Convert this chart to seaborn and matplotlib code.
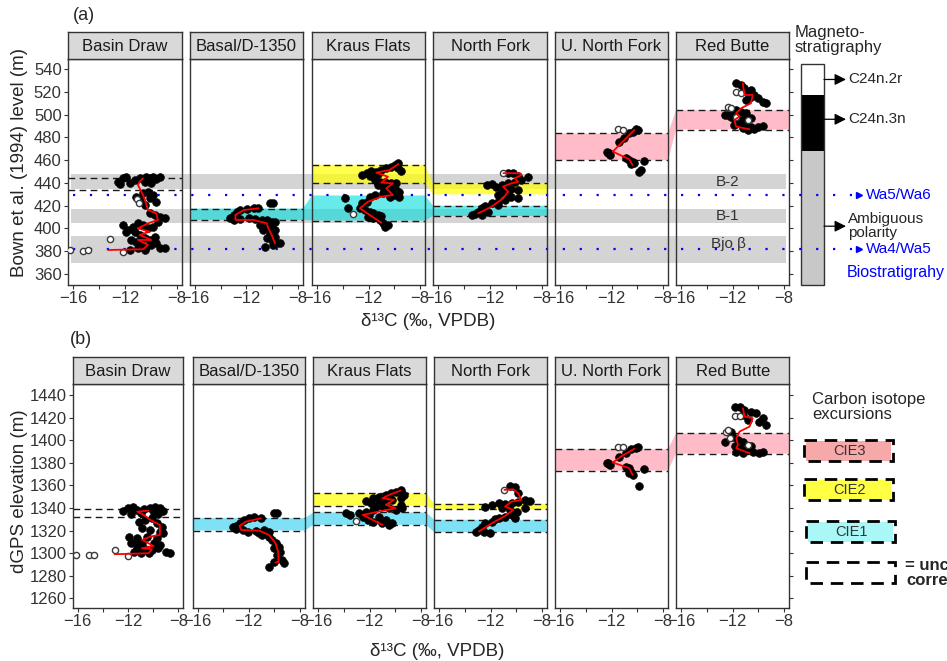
import numpy as np
import pandas as pd
import matplotlib
matplotlib.use("Agg")
import matplotlib.pyplot as plt
from matplotlib.patches import Rectangle, Polygon
import seaborn as sns

sns.set_style("white")
plt.rcParams["font.family"] = ["Liberation Sans", "DejaVu Sans"]

W, H = 947, 661

# ─── Data ───────────────────────────────────────────────────────────────────
SITES = ["Basin Draw", "Basal/D-1350", "Kraus Flats", "North Fork", "U. North Fork", "Red Butte"]
X_TICKS = [-16, -14, -12, -10, -8]
X_TICK_LABELS = ["\u221216", "", "\u221212", "", "\u22128"]
XLIM = (-16.4, -7.6)

# (a) Bown et al. (1994) level
A_YLIM = (350.3, 549)
A_YTICKS = [360, 380, 400, 420, 440, 460, 480, 500, 520, 540]

a_bd_pts = [(-12.54, 441.2), (-12.15, 444.1), (-11.9, 445.6), (-11.64, 440.3), (-11.26, 442.6), (-10.87, 444.1),
            (-10.36, 445.6), (-10.1, 444.1), (-9.85, 445.6), (-9.59, 443.2), (-9.33, 445.0), (-12.41, 439.1),
            (-10.49, 441.2), (-9.97, 440.3), (-11.13, 428.0), (-10.87, 425.1), (-10.62, 430.9), (-10.23, 432.4),
            (-9.85, 429.4), (-9.59, 423.6), (-10.49, 420.6), (-10.1, 426.5), (-10.1, 413.3), (-9.72, 411.9),
            (-9.33, 410.4), (-8.95, 408.9), (-9.46, 406.0), (-12.15, 403.1), (-11.77, 398.7), (-11.39, 401.6),
            (-11.0, 404.5), (-10.62, 403.1), (-10.23, 400.1), (-9.85, 401.6), (-11.26, 397.2), (-11.9, 397.2),
            (-10.87, 394.3), (-10.49, 391.3), (-10.1, 389.9), (-9.72, 392.8), (-11.51, 389.9), (-11.13, 388.4),
            (-10.74, 385.5), (-10.36, 384.0), (-9.97, 385.5), (-9.59, 386.9), (-9.33, 382.5), (-8.95, 382.5),
            (-11.64, 381.1), (-10.49, 381.1), (-11.0, 382.5)]
a_bd_open = [(-13.18, 390.7), (-15.23, 380.5), (-14.85, 381.1), (-16.26, 381.1), (-12.15, 379.6),
             (-11.1, 425.5), (-10.95, 422.5)]
a_bd_mean = [(-13.31, 381.1), (-10.62, 381.7), (-10.23, 385.5), (-11.0, 389.9), (-9.97, 389.9), (-10.87, 394.3),
             (-10.1, 397.2), (-11.0, 400.1), (-10.23, 404.5), (-9.46, 407.5), (-9.59, 413.3), (-10.23, 416.3),
             (-10.49, 426.5), (-10.74, 432.4), (-11.0, 438.2), (-10.87, 441.2), (-10.62, 444.1)]

a_ba_pts = [(-13.25, 408.9), (-12.99, 411.9), (-12.73, 414.8), (-12.48, 416.2), (-11.96, 416.8), (-11.45, 417.7),
            (-11.07, 417.7), (-10.17, 422.7), (-9.91, 422.7), (-12.99, 407.5), (-12.48, 408.0), (-11.84, 408.9),
            (-11.32, 408.0), (-10.81, 407.5), (-10.42, 407.5), (-10.04, 406.0), (-9.78, 406.0), (-10.94, 403.1),
            (-10.42, 401.6), (-10.04, 400.1), (-9.78, 398.7), (-10.68, 398.7), (-10.17, 395.7), (-9.78, 392.8),
            (-10.42, 391.3), (-10.04, 389.9), (-9.66, 386.9), (-9.91, 385.5), (-10.55, 383.4), (-9.4, 387.5)]
a_ba_open = []
a_ba_mean = [(-11.07, 417.7), (-12.22, 416.2), (-12.86, 411.9), (-12.86, 407.5), (-11.45, 407.5), (-10.42, 404.5),
             (-10.3, 400.1), (-10.04, 394.3), (-9.78, 386.9)]

a_kf_pts = [(-9.72, 457.3), (-9.97, 455.8), (-10.23, 454.3), (-10.62, 452.9), (-11.0, 451.4), (-11.39, 449.9),
            (-11.77, 450.8), (-12.15, 448.5), (-12.54, 447.0), (-11.9, 446.1), (-11.26, 447.9), (-9.72, 452.9),
            (-9.46, 450.8), (-11.51, 442.6), (-11.13, 441.1), (-10.74, 441.1), (-10.23, 439.7), (-9.85, 439.7),
            (-10.1, 436.8), (-10.87, 436.8), (-11.26, 438.2), (-10.49, 435.3), (-9.85, 433.8), (-9.59, 432.4),
            (-10.23, 431.5), (-10.87, 430.9), (-11.51, 429.4), (-11.9, 428.0), (-9.97, 429.4), (-9.59, 428.0),
            (-10.36, 428.0), (-13.82, 426.5), (-12.54, 422.1), (-12.15, 423.6), (-13.57, 417.7), (-12.67, 417.7),
            (-12.28, 416.2), (-11.9, 414.8), (-11.64, 413.3), (-11.26, 411.8), (-11.51, 410.4), (-11.0, 411.0),
            (-12.03, 410.4), (-11.13, 407.4), (-10.87, 404.5), (-10.49, 403.0), (-10.74, 401.6), (-11.64, 408.9)]
a_kf_open = [(-13.18, 412.7)]
a_kf_mean = [(-11.0, 405.1), (-11.9, 411.8), (-12.67, 417.7), (-12.03, 423.6), (-11.0, 428.0), (-10.1, 429.4),
             (-10.62, 435.3), (-10.1, 439.7), (-11.0, 440.3), (-10.49, 445.5), (-11.39, 449.1), (-10.36, 451.4),
             (-9.67, 456.7)]

a_nf_pts = [(-10.6, 448.5), (-10.22, 449.1), (-9.83, 446.1), (-9.06, 445.0), (-9.58, 442.6), (-10.09, 441.1),
            (-10.6, 439.7), (-11.11, 438.2), (-11.88, 439.1), (-12.27, 438.2), (-11.5, 436.8), (-10.86, 435.3),
            (-10.35, 434.4), (-9.83, 433.8), (-11.11, 432.4), (-10.6, 430.9), (-11.37, 429.4), (-10.35, 428.0),
            (-9.83, 426.5), (-10.86, 425.0), (-11.37, 423.6), (-11.88, 422.1), (-12.4, 419.7), (-12.65, 417.7),
            (-12.91, 414.8), (-13.17, 412.7), (-12.65, 411.8), (-13.42, 411.8), (-12.14, 414.8), (-11.37, 420.6)]
a_nf_open = [(-10.96, 448.6)]
a_nf_mean = [(-12.91, 413.3), (-11.88, 419.2), (-10.99, 426.5), (-10.6, 432.4), (-10.99, 436.8), (-10.35, 439.7),
             (-9.83, 441.1), (-10.09, 444.1), (-9.58, 447.0), (-9.7, 448.6), (-10.96, 448.6)]

a_un_pts = [(-10.62, 483.7), (-10.36, 485.2), (-10.1, 487.2), (-9.97, 486.6), (-11.0, 479.3), (-11.39, 476.4),
            (-12.28, 466.7), (-12.2, 466.0), (-12.35, 467.3), (-12.15, 464.6), (-10.87, 461.7), (-10.62, 460.2),
            (-10.36, 458.8), (-10.23, 457.3), (-9.46, 459.7), (-9.85, 450.0), (-9.72, 451.4), (-10.49, 456.7)]
a_un_open = [(-11.51, 487.2), (-11.13, 486.6)]
a_un_mean = [(-10.36, 455.8), (-10.62, 460.8), (-11.9, 467.6), (-11.0, 477.8), (-10.23, 486.6)]

a_rb_pts = [(-11.72, 527.7), (-11.33, 526.2), (-11.07, 523.3), (-10.56, 521.8), (-10.82, 518.9), (-10.3, 517.4),
            (-10.05, 514.5), (-9.66, 511.5), (-9.41, 510.1), (-10.56, 516.0), (-10.95, 513.0), (-11.72, 504.2),
            (-11.33, 502.8), (-10.95, 501.3), (-11.85, 501.3), (-12.36, 499.8), (-12.61, 499.8), (-11.85, 496.9),
            (-11.46, 495.4), (-11.07, 496.0), (-10.56, 496.9), (-11.72, 493.1), (-11.33, 492.5), (-10.95, 491.0),
            (-10.56, 489.6), (-10.05, 489.6), (-9.66, 490.1), (-10.3, 487.2), (-10.82, 486.6), (-11.2, 488.1),
            (-11.85, 491.0), (-12.1, 498.4)]
a_rb_open = [(-11.72, 520.3), (-11.33, 519.5), (-12.36, 507.2), (-12.1, 505.7), (-10.82, 495.4), (-11.72, 498.4)]
a_rb_mean = [(-11.2, 527.7), (-11.07, 517.4), (-10.43, 517.4), (-10.56, 510.1), (-11.33, 505.7), (-11.72, 501.3),
             (-11.46, 498.4), (-11.85, 495.4), (-11.72, 489.6), (-10.69, 487.2)]

A_DASHED = {"Basin Draw": [434, 444], "Basal/D-1350": [407.5, 417.5], "Kraus Flats": [407, 440, 456],
            "North Fork": [411, 420, 440], "U. North Fork": [460, 483.5], "Red Butte": [487, 504]}
A_CIE1 = {"Basal/D-1350": (407.5, 417.5), "Kraus Flats": (407, 429), "North Fork": (411, 420)}
A_CIE2 = {"Kraus Flats": (440, 456), "North Fork": (430, 440)}
A_CIE3 = {"U. North Fork": (460, 483.5), "Red Butte": (487, 504)}
GRAY_BANDS = [(435, 448), (405, 417), (369.5, 393.5)]
GRAY_LABELS = ["B-2", "B-1", "Bjo \u03b2"]
GRAY_LABEL_Y = [441, 411, 386.5]
BIO_Y = [429, 382]
BIO_LABELS = ["Wa5/Wa6", "Wa4/Wa5"]
MAG_BOUNDS = [545, 517.5, 468, 350.3]
POLARITY_LABELS = ["C24n.2r", "C24n.3n", "Ambiguous\npolarity"]
POLARITY_Y = [531, 496, 402]

# (b) dGPS elevation
B_YLIM = (1251.4, 1449.7)
B_YTICKS = [1260, 1280, 1300, 1320, 1340, 1360, 1380, 1400, 1420, 1440]

b_bd_pts = [(-12.41, 1337.6), (-12.03, 1339.7), (-11.64, 1340.6), (-11.26, 1338.2), (-10.74, 1339.1),
            (-10.23, 1339.7), (-9.85, 1340.6), (-9.46, 1339.7), (-9.2, 1337.6), (-11.77, 1334.7), (-11.0, 1335.2),
            (-9.97, 1335.8), (-9.59, 1334.7), (-11.13, 1327.9), (-10.62, 1329.4), (-10.1, 1330.8), (-9.72, 1326.4),
            (-9.33, 1323.5), (-10.87, 1322.0), (-10.23, 1320.5), (-9.46, 1319.0), (-11.9, 1314.6), (-11.26, 1313.1),
            (-10.49, 1314.6), (-9.72, 1313.1), (-9.2, 1317.6), (-11.77, 1308.7), (-11.39, 1310.2), (-10.87, 1308.7),
            (-9.97, 1308.7), (-9.46, 1307.2), (-11.26, 1304.3), (-10.62, 1303.4), (-10.1, 1302.8), (-9.59, 1304.3),
            (-8.95, 1301.3), (-8.69, 1300.4), (-10.36, 1299.9), (-11.51, 1301.3), (-11.0, 1299.9)]
b_bd_open = [(-13.05, 1302.8), (-15.1, 1298.4), (-14.72, 1298.4), (-16.13, 1298.4), (-12.03, 1297.8)]
b_bd_mean = [(-13.05, 1299.0), (-10.36, 1299.9), (-10.1, 1303.4), (-10.87, 1304.3), (-9.97, 1306.3),
             (-10.87, 1311.7), (-10.23, 1314.6), (-9.46, 1316.1), (-9.46, 1324.9), (-10.23, 1329.4),
             (-10.74, 1333.8), (-11.26, 1336.7), (-10.36, 1337.6)]

b_ba_pts = [(-10.04, 1335.8), (-9.78, 1335.2), (-11.07, 1330.8), (-11.58, 1331.7), (-11.96, 1330.8),
            (-12.35, 1329.4), (-12.73, 1327.0), (-12.99, 1324.0), (-13.25, 1322.9), (-12.99, 1321.1),
            (-12.48, 1320.5), (-12.09, 1319.0), (-11.45, 1319.9), (-10.81, 1320.5), (-10.42, 1319.0),
            (-11.19, 1318.1), (-10.94, 1316.1), (-10.42, 1314.6), (-10.68, 1317.6), (-10.17, 1311.7),
            (-9.91, 1308.7), (-9.66, 1305.8), (-10.04, 1304.3), (-9.53, 1301.3), (-9.78, 1298.4), (-9.4, 1294.0),
            (-9.27, 1291.0), (-10.04, 1292.5), (-10.42, 1287.5)]
b_ba_open = []
b_ba_mean = [(-11.07, 1330.8), (-12.22, 1327.9), (-12.73, 1324.0), (-12.6, 1320.5), (-11.19, 1319.9),
             (-10.42, 1316.1), (-9.91, 1308.7), (-9.71, 1301.3), (-9.66, 1292.5), (-9.91, 1291.6)]

b_kf_pts = [(-9.59, 1356.0), (-9.97, 1354.5), (-10.36, 1353.0), (-10.74, 1351.5), (-11.26, 1350.1),
            (-11.77, 1348.6), (-12.28, 1346.5), (-11.9, 1344.7), (-11.26, 1344.1), (-10.87, 1345.6),
            (-10.23, 1347.1), (-9.59, 1348.6), (-9.33, 1351.5), (-11.51, 1341.2), (-11.0, 1341.8), (-10.49, 1339.7),
            (-9.97, 1338.3), (-9.59, 1342.7), (-9.46, 1339.7), (-11.77, 1338.3), (-12.28, 1336.8), (-12.8, 1335.3),
            (-13.82, 1335.3), (-13.57, 1333.8), (-12.54, 1332.4), (-12.03, 1333.8), (-11.26, 1332.4),
            (-10.74, 1329.4), (-10.23, 1326.5), (-10.49, 1325.0), (-11.77, 1327.9), (-12.15, 1329.4), (-11.0, 1326.5)]
b_kf_open = [(-13.05, 1328.8)]
b_kf_mean = [(-11.0, 1325.0), (-12.54, 1333.8), (-11.26, 1336.8), (-9.97, 1339.7), (-10.74, 1342.7),
             (-10.1, 1347.1), (-11.0, 1348.6), (-10.49, 1351.5), (-9.59, 1355.4)]

b_nf_pts = [(-10.47, 1359.5), (-10.09, 1358.9), (-9.83, 1353.0), (-9.32, 1347.1), (-8.94, 1346.5), (-9.83, 1345.6),
            (-10.35, 1344.1), (-10.86, 1343.6), (-11.37, 1344.1), (-11.88, 1342.7), (-12.4, 1341.2),
            (-11.11, 1339.7), (-10.47, 1338.3), (-9.96, 1336.8), (-9.32, 1339.7), (-10.35, 1333.8),
            (-10.86, 1332.4), (-10.09, 1330.9), (-11.37, 1330.9), (-11.88, 1327.9), (-12.4, 1326.5),
            (-12.65, 1323.5), (-12.91, 1320.6), (-13.17, 1319.1), (-12.52, 1319.1), (-12.01, 1317.6), (-11.63, 1330.0)]
b_nf_open = [(-10.91, 1356.0)]
b_nf_mean = [(-12.91, 1319.1), (-11.88, 1326.5), (-10.86, 1332.9), (-10.22, 1338.3), (-10.86, 1341.2),
             (-10.35, 1345.6), (-9.58, 1347.1), (-9.83, 1353.0), (-10.22, 1356.5), (-10.91, 1356.0)]

b_un_pts = [(-10.49, 1392.3), (-10.1, 1393.4), (-9.97, 1394.3), (-10.87, 1388.4), (-11.39, 1385.5),
            (-12.28, 1379.6), (-12.2, 1379.0), (-12.35, 1380.2), (-12.15, 1378.1), (-10.87, 1376.6),
            (-10.62, 1375.2), (-10.49, 1372.2), (-10.36, 1369.3), (-9.46, 1374.6), (-10.62, 1370.7), (-9.85, 1359.7)]
b_un_open = [(-11.51, 1394.3), (-11.13, 1394.3)]
b_un_mean = [(-10.36, 1369.3), (-10.62, 1375.2), (-11.9, 1380.2), (-11.26, 1385.5), (-10.23, 1392.3)]

b_rb_pts = [(-11.85, 1429.1), (-11.46, 1429.1), (-11.08, 1426.8), (-10.56, 1425.3), (-10.18, 1423.8),
            (-9.67, 1419.4), (-9.41, 1413.5), (-9.92, 1416.4), (-10.82, 1417.9), (-11.2, 1422.3), (-12.62, 1398.7),
            (-11.97, 1402.6), (-11.59, 1400.2), (-11.2, 1398.7), (-10.56, 1394.9), (-11.85, 1394.9),
            (-11.46, 1392.8), (-10.95, 1391.4), (-10.44, 1389.9), (-9.92, 1389.0), (-9.67, 1389.9),
            (-11.72, 1389.9), (-11.2, 1388.4), (-12.1, 1407.6)]
b_rb_open = [(-11.85, 1421.7), (-11.46, 1421.7), (-12.49, 1407.6), (-12.23, 1401.7), (-10.82, 1395.8),
             (-12.36, 1409.1)]
b_rb_mean = [(-11.2, 1428.2), (-11.08, 1420.9), (-10.44, 1419.4), (-10.69, 1412.0), (-11.46, 1407.6),
             (-11.72, 1401.7), (-11.59, 1395.8), (-11.72, 1392.8), (-10.69, 1388.4)]

B_DASHED = {"Basin Draw": [1332, 1339], "Basal/D-1350": [1320, 1331], "Kraus Flats": [1325, 1336, 1342, 1353],
            "North Fork": [1318.5, 1329.5, 1339, 1343.6], "U. North Fork": [1373, 1392], "Red Butte": [1388, 1406]}
B_CIE1 = {"Basal/D-1350": (1320, 1331), "Kraus Flats": (1325, 1336), "North Fork": (1318.5, 1329.5)}
B_CIE2 = {"Kraus Flats": (1342, 1353), "North Fork": (1339, 1343.6)}
B_CIE3 = {"U. North Fork": (1373, 1392), "Red Butte": (1388, 1406)}
LEGEND_LABELS = ["CIE3", "CIE2", "CIE1", ""]

# ─── Style ──────────────────────────────────────────────────────────────────
C = {
    "dark": "#333333", "tick": "#333333", "strip": "#d9d9d9", "gray_band": "#d4d4d4",
    "blue": "#0000ff", "pink": "#ffbcc8", "yellow": "#ffff00", "cyan_a": "#00dcdc", "cyan_b": "#00c4ee",
    "mag": ["white", "black", "#c8c8c8"],
    "leg": ["#f7a8a8", "#ffff44", "#aaf7f7", "none"],
}

ROWS = [
    dict(lefts=[68, 190, 312, 433, 555, 676], rights=[182, 303, 425, 547, 668, 789],
         top=59, bottom=285, strip=32, ylim=A_YLIM, yticks=A_YTICKS,
         pts=[a_bd_pts, a_ba_pts, a_kf_pts, a_nf_pts, a_un_pts, a_rb_pts],
         opens=[a_bd_open, a_ba_open, a_kf_open, a_nf_open, a_un_open, a_rb_open],
         means=[a_bd_mean, a_ba_mean, a_kf_mean, a_nf_mean, a_un_mean, a_rb_mean],
         dashed=A_DASHED,
         cies=[(A_CIE1, C["cyan_a"], 0.6), (A_CIE2, C["yellow"], 0.7), (A_CIE3, C["pink"], 1.0)]),
    dict(lefts=[72.7, 192.7, 313.3, 434.3, 555, 676], rights=[183.3, 305, 426, 546.7, 668, 789.3],
         top=384, bottom=608, strip=357, ylim=B_YLIM, yticks=B_YTICKS,
         pts=[b_bd_pts, b_ba_pts, b_kf_pts, b_nf_pts, b_un_pts, b_rb_pts],
         opens=[b_bd_open, b_ba_open, b_kf_open, b_nf_open, b_un_open, b_rb_open],
         means=[b_bd_mean, b_ba_mean, b_kf_mean, b_nf_mean, b_un_mean, b_rb_mean],
         dashed=B_DASHED,
         cies=[(B_CIE1, C["cyan_b"], 0.5), (B_CIE2, C["yellow"], 0.7), (B_CIE3, C["pink"], 1.0)]),
]

fig = plt.figure(figsize=(W / 100, H / 100), dpi=100)


def box(l, t, r, b):
    return [l / W, 1 - b / H, (r - l) / W, (b - t) / H]


def ftext(x, y, s, **kw):
    return fig.text(x / W, 1 - y / H, s, **kw)


def to_df(pairs):
    return pd.DataFrame(pairs, columns=["d13C", "level"])


for r, row in enumerate(ROWS):
    lefts, rights = row["lefts"], row["rights"]

    # background layer: x in pixels, y in data units
    bg = fig.add_axes(box(0, row["top"], W, row["bottom"]), zorder=0)
    bg.set_xlim(0, W)
    bg.set_ylim(row["ylim"])
    bg.axis("off")

    if r == 0:
        for (lo, hi) in GRAY_BANDS:
            bg.fill_between([71, 786], lo, hi, color=C["gray_band"], lw=0, zorder=1)
        for lab, y in zip(GRAY_LABELS, GRAY_LABEL_Y):
            bg.text(728, y, lab, ha="center", va="center", fontsize=11, color=C["dark"], zorder=5)

    for cie, color, alpha in row["cies"]:
        top_edge, bot_edge = [], []
        for site, (lo, hi) in cie.items():
            i = SITES.index(site)
            top_edge += [(lefts[i], hi), (rights[i], hi)]
            bot_edge += [(lefts[i], lo), (rights[i], lo)]
        bg.add_patch(Polygon(top_edge + bot_edge[::-1], closed=True, fc=color, alpha=alpha, lw=0, zorder=2))

    if r == 0:
        for y, lab in zip(BIO_Y, BIO_LABELS):
            bg.plot([73, 852], [y, y], color=C["blue"], lw=1.6, dashes=(1, 6.6), zorder=4)
            bg.plot([859], [y], marker=">", ms=4.5, color=C["blue"], clip_on=False, zorder=4)
            bg.text(866, y, lab, color=C["blue"], fontsize=11, ha="left", va="center")

        # magnetostratigraphy column
        for k in range(3):
            hi, lo = MAG_BOUNDS[k], MAG_BOUNDS[k + 1]
            bg.add_patch(Rectangle((801, lo), 23, hi - lo, fc=C["mag"][k], ec="none", zorder=3))
        bg.add_patch(Rectangle((801, MAG_BOUNDS[-1]), 23, MAG_BOUNDS[0] - MAG_BOUNDS[-1], fill=False,
                               ec=C["dark"], lw=1.0, zorder=3, clip_on=False))
        for lab, y in zip(POLARITY_LABELS, POLARITY_Y):
            bg.annotate("", xy=(846, y), xytext=(824, y), annotation_clip=False,
                        arrowprops=dict(arrowstyle="-|>", color="black", lw=0.9, mutation_scale=17,
                                        shrinkA=0, shrinkB=0))
            bg.text(848, y, lab, fontsize=11, ha="left", va="center", linespacing=1.0)

    # facets
    for i, site in enumerate(SITES):
        ax = fig.add_axes(box(lefts[i], row["top"], rights[i], row["bottom"]), zorder=2)
        ax.set_facecolor("none")
        for y in row["dashed"][site]:
            ax.axhline(y, color="#1a1a1a", lw=1.0, dashes=(4.8, 3.2), zorder=2)
        sns.scatterplot(data=to_df(row["pts"][i]), x="d13C", y="level", ax=ax, color="black",
                        edgecolor="black", s=32, linewidth=0.4, legend=False, zorder=3)
        if row["opens"][i]:
            sns.scatterplot(data=to_df(row["opens"][i]), x="d13C", y="level", ax=ax, color="white",
                            edgecolor="#3a3a3a", s=20, linewidth=1.0, legend=False, zorder=3)
        sns.lineplot(data=to_df(row["means"][i]), x="d13C", y="level", ax=ax, sort=False, estimator=None,
                     color="red", linewidth=1.3, zorder=4)
        ax.set_xlim(XLIM)
        ax.set_ylim(row["ylim"])
        ax.set_xticks(X_TICKS)
        ax.set_xticklabels(X_TICK_LABELS)
        ax.set_yticks(row["yticks"])
        ax.set_xlabel("")
        ax.set_ylabel("")
        ax.tick_params(axis="both", length=3, width=0.8, color=C["dark"], labelcolor=C["tick"],
                       labelsize=12, pad=1.5, bottom=True, left=(i == 0), right=(i == 5),
                       labelleft=(i == 0), labelright=False)
        for sp in ax.spines.values():
            sp.set_edgecolor(C["dark"])
            sp.set_linewidth(1.0)

        sa = fig.add_axes(box(lefts[i], row["strip"], rights[i], row["top"]), zorder=2)
        sa.set_facecolor(C["strip"])
        sa.set_xticks([])
        sa.set_yticks([])
        for sp in sa.spines.values():
            sp.set_edgecolor(C["dark"])
            sp.set_linewidth(1.0)
        sa.text(0.5, 0.48, site, ha="center", va="center", fontsize=12, color="#1a1a1a",
                transform=sa.transAxes)

# ─── Titles / annotations ───────────────────────────────────────────────────
ftext(73, 16, "(a)", fontsize=13, ha="left", va="center")
ftext(70, 340, "(b)", fontsize=13, ha="left", va="center")
ftext(20, 277, "Bown et al. (1994) level (m)", rotation=90, fontsize=13.5, ha="center", va="bottom")
ftext(20, 573, "dGPS elevation (m)", rotation=90, fontsize=13.5, ha="center", va="bottom")
ftext(428, 322, "\u03b4\u00b9\u00b3C (\u2030, VPDB)", fontsize=13.5, ha="center", va="center")
ftext(437, 651, "\u03b4\u00b9\u00b3C (\u2030, VPDB)", fontsize=13.5, ha="center", va="center")
ftext(795, 40, "Magneto-\nstratigraphy", fontsize=12, ha="left", va="center", linespacing=1.05)
ftext(847, 273, "Biostratigrahy", fontsize=11.5, color=C["blue"], ha="left", va="center")
ftext(812, 407, "Carbon isotope\nexcursions", fontsize=12, ha="left", va="center", linespacing=1.05)

ov = fig.add_axes([0, 0, 1, 1], zorder=3)
ov.set_xlim(0, W)
ov.set_ylim(H, 0)
ov.axis("off")
for k, (lab, ytop) in enumerate(zip(LEGEND_LABELS, [440, 479, 521, 562])):
    x0 = 804 if k < 2 else 806
    if C["leg"][k] != "none":
        ov.add_patch(Rectangle((x0 + 2, ytop + 1), 85, 20, fc=C["leg"][k], ec="none"))
    ov.add_patch(Rectangle((x0, ytop), 89, 21, fill=False, ec="black", lw=2.0, linestyle=(0, (4.5, 2.8))))
    ov.text(x0 + 45, ytop + 11, lab, fontsize=10.5, color=C["dark"], ha="center", va="center")
ftext(905, 573, "= uncertain\ncorrelation", fontsize=12, fontweight="bold", ha="left", va="center",
      multialignment="center", linespacing=1.05)

fig.savefig("out.png", dpi=100, facecolor="white")
